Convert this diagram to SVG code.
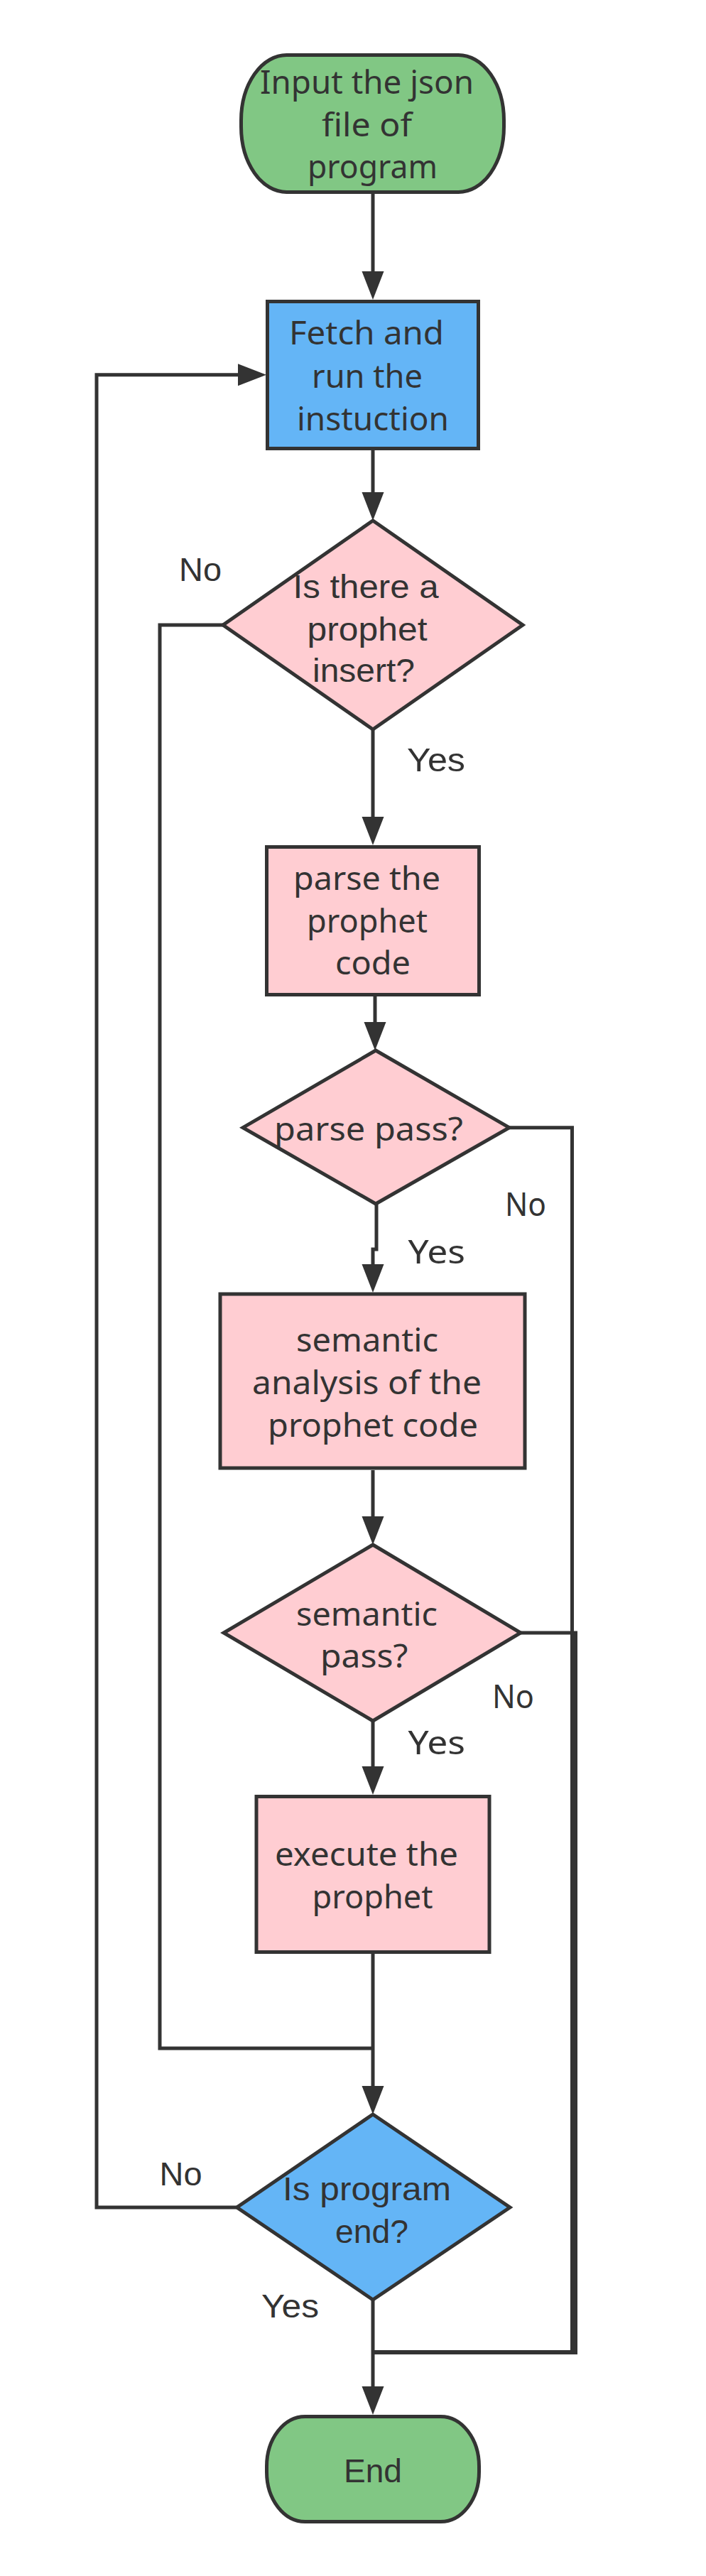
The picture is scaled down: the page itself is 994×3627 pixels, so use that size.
<svg xmlns="http://www.w3.org/2000/svg" width="994" height="3627" viewBox="0 0 994 3627">
<style>
.node{stroke:#333333;stroke-width:5;stroke-linejoin:miter}
.term{fill:#81c784}
.blue{fill:#64b5f6}
.pink{fill:#ffcdd2}
.w{font-family:"Noto Sans","Liberation Sans",sans-serif;font-size:46px;fill:#333333}
.h{font-family:"Liberation Sans",Arial,sans-serif;font-size:46px;fill:#333333}
.edge{fill:none;stroke:#333333;stroke-width:5;stroke-linejoin:miter}
.arr{marker-end:url(#ah)}
</style>
<defs>
<marker id="ah" markerUnits="userSpaceOnUse" markerWidth="42" markerHeight="32" refX="2" refY="15.5" orient="auto" viewBox="0 0 42 31">
<path d="M0,0 L40,15.5 L0,31 z" fill="#333333"/>
</marker>
</defs>
<rect width="994" height="3627" fill="#ffffff"/>

<g id="connectors">
<path class="edge arr" d="M525,273 V384"/>
<path class="edge arr" d="M525,634 V695"/>
<path class="edge arr" d="M525,1027 V1152"/>
<path class="edge arr" d="M528,1403 V1441"/>
<path class="edge arr" d="M530,1695 V1759 H525 V1782"/>
<path class="edge arr" d="M525,2070 V2137"/>
<path class="edge arr" d="M525,2423 V2489"/>
<path class="edge arr" d="M525,2751 V2939"/>
<path class="edge arr" d="M525,3238 V3362"/>
<path class="edge arr" d="M333.5,3108 H136 V527.7 H337"/>
<path class="edge" d="M314,880 H225 V2884 H525"/>
<path class="edge" d="M717,1587.7 H805.5 V3311.5 H525"/>
<path class="edge" d="M733,2299 H810.5 V3312.5 H525"/>
</g>

<g id="start">
<rect class="node term" x="339.5" y="77.5" width="370" height="193" rx="64" ry="92"/>
<text class="w" x="366" y="131.5" textLength="301" lengthAdjust="spacingAndGlyphs">Input the json</text>
<text class="w" x="453" y="191.5" textLength="127" lengthAdjust="spacingAndGlyphs">file of</text>
<text class="w" x="433" y="251" textLength="183" lengthAdjust="spacingAndGlyphs">program</text>
</g>

<g id="fetch">
<rect class="node blue" x="376.5" y="424.5" width="297" height="207"/>
<text class="w" x="407" y="485" textLength="218" lengthAdjust="spacingAndGlyphs">Fetch and</text>
<text class="w" x="439" y="545.5" textLength="156" lengthAdjust="spacingAndGlyphs">run the</text>
<text class="w" x="418" y="605.5" textLength="214" lengthAdjust="spacingAndGlyphs">instuction</text>
</g>

<g id="insert-decision">
<polygon class="node pink" points="525,733 736,880 525,1027 314,880"/>
<text class="h" x="412.5" y="841.5" textLength="205" lengthAdjust="spacingAndGlyphs">Is there a</text>
<text class="h" x="432.5" y="901.5" textLength="169" lengthAdjust="spacingAndGlyphs">prophet</text>
<text class="h" x="440" y="960" textLength="144" lengthAdjust="spacingAndGlyphs">insert?</text>
<text class="h" x="252" y="818" textLength="60" lengthAdjust="spacingAndGlyphs">No</text>
<text class="h" x="573" y="1086" textLength="82" lengthAdjust="spacingAndGlyphs">Yes</text>
</g>

<g id="parse">
<rect class="node pink" x="375.5" y="1192.5" width="299" height="208"/>
<text class="w" x="413" y="1253" textLength="207" lengthAdjust="spacingAndGlyphs">parse the</text>
<text class="w" x="432" y="1313" textLength="170" lengthAdjust="spacingAndGlyphs">prophet</text>
<text class="w" x="472" y="1371.5" textLength="106" lengthAdjust="spacingAndGlyphs">code</text>
</g>

<g id="parse-decision">
<polygon class="node pink" points="529,1479 717,1587.7 529,1695 342,1587.7"/>
<text class="w" x="386" y="1606" textLength="266" lengthAdjust="spacingAndGlyphs">parse pass?</text>
<text class="w" x="711" y="1711.5" textLength="58" lengthAdjust="spacingAndGlyphs">No</text>
<text class="w" x="574.5" y="1778.5" textLength="80.5" lengthAdjust="spacingAndGlyphs">Yes</text>
</g>

<g id="semantic">
<rect class="node pink" x="310" y="1822" width="429" height="245"/>
<text class="w" x="417" y="1903" textLength="200" lengthAdjust="spacingAndGlyphs">semantic</text>
<text class="w" x="355" y="1963" textLength="323" lengthAdjust="spacingAndGlyphs">analysis of the</text>
<text class="w" x="377" y="2023" textLength="296" lengthAdjust="spacingAndGlyphs">prophet code</text>
</g>

<g id="semantic-decision">
<polygon class="node pink" points="525,2175 733,2299 525,2423 315,2299"/>
<text class="w" x="417" y="2288.5" textLength="199" lengthAdjust="spacingAndGlyphs">semantic</text>
<text class="w" x="451" y="2347.5" textLength="123.5" lengthAdjust="spacingAndGlyphs">pass?</text>
<text class="w" x="693" y="2404.5" textLength="59" lengthAdjust="spacingAndGlyphs">No</text>
<text class="w" x="574.5" y="2470" textLength="80.5" lengthAdjust="spacingAndGlyphs">Yes</text>
</g>

<g id="execute">
<rect class="node pink" x="361" y="2529.5" width="328" height="219"/>
<text class="w" x="387" y="2626.5" textLength="258" lengthAdjust="spacingAndGlyphs">execute the</text>
<text class="w" x="439.5" y="2686.5" textLength="170" lengthAdjust="spacingAndGlyphs">prophet</text>
</g>

<g id="end-decision">
<polygon class="node blue" points="525,2977 718,3108 525,3238 333.5,3108"/>
<text class="h" x="398" y="3097.5" textLength="237" lengthAdjust="spacingAndGlyphs">Is program</text>
<text class="h" x="472" y="3157.5" textLength="103" lengthAdjust="spacingAndGlyphs">end?</text>
<text class="h" x="224.5" y="3077" textLength="60" lengthAdjust="spacingAndGlyphs">No</text>
<text class="h" x="368" y="3263" textLength="81" lengthAdjust="spacingAndGlyphs">Yes</text>
</g>

<g id="end">
<rect class="node term" x="375.5" y="3402.5" width="299" height="148" rx="54" ry="70"/>
<text class="h" x="484" y="3495" textLength="82" lengthAdjust="spacingAndGlyphs">End</text>
</g>
</svg>
